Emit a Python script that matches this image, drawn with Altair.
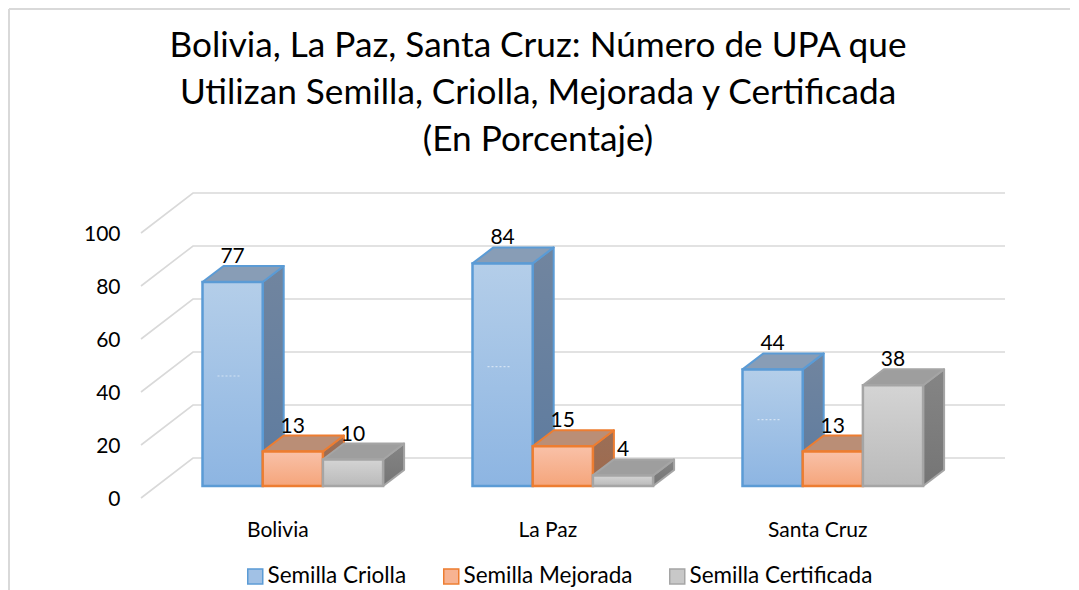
import altair as alt
import pandas as pd

categories = ["Bolivia", "La Paz", "Santa Cruz"]
series = ["Semilla Criolla", "Semilla Mejorada", "Semilla Certificada"]
values = {
    "Semilla Criolla": [77, 84, 44],
    "Semilla Mejorada": [13, 15, 13],
    "Semilla Certificada": [10, 4, 38],
}
y_ticks = [0, 20, 40, 60, 80, 100]
title_lines = [
    "Bolivia, La Paz, Santa Cruz: Número de UPA que",
    "Utilizan Semilla, Criolla, Mejorada y Certificada",
    "(En Porcentaje)",
]

FONT = "Lato"
W, H = 1061, 582          # plot frame, filling the picture to its right and bottom edges
PAD = 1
X0, GROUP = 202.5, 270.0  # px of first bar, px per category
BASE, PXV = 486.0, 2.65   # px of value 0, px per value unit
TOP = 9
LEFT = 9


def ux(px):
    return (px - X0) / GROUP


def uy(px):
    return (BASE - px) / PXV


BAR = 60.2 / GROUP
DX = 21 / GROUP
DY = 16 / PXV
WALL_DX0, WALL_DX1 = ux(141), ux(193)
WALL_END = ux(1005)
WALL_Y0, WALL_Y1 = -12 / PXV, 28 / PXV

x_scale = alt.Scale(domain=[ux(LEFT), ux(LEFT + W)], nice=False, zero=False)
y_scale = alt.Scale(domain=[uy(TOP + H), uy(TOP)], nice=False, zero=False)


def grad(c1, c2):
    return alt.Gradient(
        gradient="linear", x1=0, y1=0, x2=0, y2=1,
        stops=[alt.GradientStop(color=c1, offset=0), alt.GradientStop(color=c2, offset=1)],
    )


styles = {
    "Semilla Criolla": dict(front=("#b4cee9", "#8db5e2"), side=("#71859f", "#5d7b9f"), top="#889db6",
                            stroke="#5b9bd5", swatch="#a1c1e5"),
    "Semilla Mejorada": dict(front=("#f9c1a8", "#f5a57b"), side=("#9a6f58", "#a06a4c"), top="#ba8e76",
                             stroke="#ed7d31", swatch="#f7b392"),
    "Semilla Certificada": dict(front=("#d4d4d4", "#bababa"), side=("#858585", "#757575"), top="#9e9e9e",
                                stroke="#a5a5a5", swatch="#c8c8c8"),
}

X = alt.X("x:Q", scale=x_scale, axis=None)

# chart frame: top and left edges only, the others fall outside the picture
frame_df = pd.DataFrame([
    {"e": "top", "x": ux(LEFT), "y": uy(TOP)},
    {"e": "top", "x": ux(LEFT + W), "y": uy(TOP)},
    {"e": "left", "x": ux(LEFT), "y": uy(TOP)},
    {"e": "left", "x": ux(LEFT), "y": uy(TOP + H)},
])
frame = alt.Chart(frame_df).mark_line(color="#d9d9d9", strokeWidth=2).encode(
    x=X, y=alt.Y("y:Q", scale=y_scale, title=None), detail="e:N"
)

# wall gridlines
grid_rows = []
for t in y_ticks:
    for px, dv in ((WALL_DX0, WALL_Y0), (WALL_DX1, WALL_Y1), (WALL_END, WALL_Y1)):
        grid_rows.append({"tick": t, "x": px, "y": t + dv})
grid = alt.Chart(pd.DataFrame(grid_rows)).mark_line(color="#d9d9d9", strokeWidth=1.6).encode(
    x=X,
    y=alt.Y(
        "y:Q", scale=y_scale, title=None,
        axis=alt.Axis(
            values=y_ticks, grid=False, domain=False, ticks=False, labelFont=FONT, labelFontSize=21,
            labelColor="#000000", labelPadding=0, offset=-111, labelOffset=13, labelBaseline="middle",
        ),
    ),
    detail="tick:N",
)

layers = [grid, frame]
label_rows = []
smudge_rows = []
for si, s in enumerate(series):
    st = styles[s]
    side_rows, top_rows, front_rows = [], [], []
    for ci, c in enumerate(categories):
        v = values[s][ci]
        xl = ci + si * BAR
        xr = xl + BAR
        key = c
        side_rows += [
            {"k": key, "x": xr, "y": 0, "y2": v},
            {"k": key, "x": xr + DX, "y": DY, "y2": v + DY},
        ]
        top_rows += [
            {"k": key, "x": xl, "y": v, "y2": v},
            {"k": key, "x": xl + DX, "y": v, "y2": v + DY},
            {"k": key, "x": xr, "y": v, "y2": v + DY},
            {"k": key, "x": xr + DX, "y": v + DY, "y2": v + DY},
        ]
        front_rows.append({"k": key, "x": xl, "x2": xr, "y": 0, "y2": v})
        label_rows.append({"x": (xl + xr) / 2, "y": v + DY, "label": str(v)})
        if si == 0:
            smudge_rows.append({"x": xl + 15 / GROUP, "x2": xl + 37 / GROUP, "y": (v + DY) / 2})

    def Y():
        return alt.Y("y:Q", scale=y_scale, title=None)

    layers.append(
        alt.Chart(pd.DataFrame(side_rows)).mark_area(
            color=grad(*st["side"]), stroke=st["stroke"], strokeWidth=2, strokeJoin="round", opacity=1,
        ).encode(x=X, y=Y(), y2="y2:Q", detail="k:N")
    )
    layers.append(
        alt.Chart(pd.DataFrame(top_rows)).mark_area(
            color=st["top"], stroke=st["stroke"], strokeWidth=2, strokeJoin="round", opacity=1,
        ).encode(x=X, y=Y(), y2="y2:Q", detail="k:N")
    )
    layers.append(
        alt.Chart(pd.DataFrame(front_rows)).mark_bar(
            color=grad(*st["front"]), stroke=st["stroke"], strokeWidth=2.5,
        ).encode(x=X, x2="x2:Q", y=Y(), y2="y2:Q")
    )

# faint white smudge in the middle of the blue columns
layers.append(
    alt.Chart(pd.DataFrame(smudge_rows)).mark_rule(
        color="#ffffff", opacity=0.55, strokeWidth=1.2, strokeDash=[2, 2]
    ).encode(x=X, x2="x2:Q", y=alt.Y("y:Q", scale=y_scale, title=None))
)

labels = alt.Chart(pd.DataFrame(label_rows)).mark_text(
    font=FONT, fontSize=21, color="#000000", baseline="middle", dy=-9
).encode(x=X, y=alt.Y("y:Q", scale=y_scale, title=None), text="label:N")
layers.append(labels)

cat_df = pd.DataFrame({"x": [i + 1.5 * BAR - 15 / GROUP for i in range(3)], "y": [uy(531)] * 3, "label": categories})
layers.append(
    alt.Chart(cat_df).mark_text(font=FONT, fontSize=21, color="#000000", baseline="middle").encode(
        x=X, y=alt.Y("y:Q", scale=y_scale, title=None), text="label:N"
    )
)

# legend from fill and stroke scales on an invisible point layer
legend = alt.Legend(
    orient="none", legendX=235, legendY=556, direction="horizontal", columns=3, title=None,
    symbolType="square", symbolSize=225, symbolOpacity=1, symbolStrokeWidth=1.5,
    labelFont=FONT, labelFontSize=22.5, labelColor="#000000", columnPadding=33, labelOffset=1,
    labelLimit=300,
)
leg_df = pd.DataFrame({"serie": series, "x": [0, 0, 0], "y": [0, 0, 0]})
layers.append(
    alt.Chart(leg_df).mark_point(shape="square", opacity=0, size=1).encode(
        x=X,
        y=alt.Y("y:Q", scale=y_scale, title=None),
        fill=alt.Fill("serie:N", scale=alt.Scale(domain=series, range=[styles[s]["swatch"] for s in series]), legend=legend),
        stroke=alt.Stroke("serie:N", scale=alt.Scale(domain=series, range=[styles[s]["stroke"] for s in series]), legend=legend),
    )
)

chart = (
    alt.layer(*layers)
    .properties(
        width=W,
        height=H,
        padding=PAD,
        autosize=alt.AutoSizeParams(type="none"),
        title=alt.TitleParams(
            text=title_lines, font=FONT, fontSize=35.2, fontWeight="normal", color="#000000",
            anchor="middle", frame="group", offset=-153, lineHeight=47, dx=-1.5,
        ),
    )
    .configure_view(stroke=None, fill="white")
)
chart.save("out.html", embed_options={"renderer": "svg", "actions": False})
